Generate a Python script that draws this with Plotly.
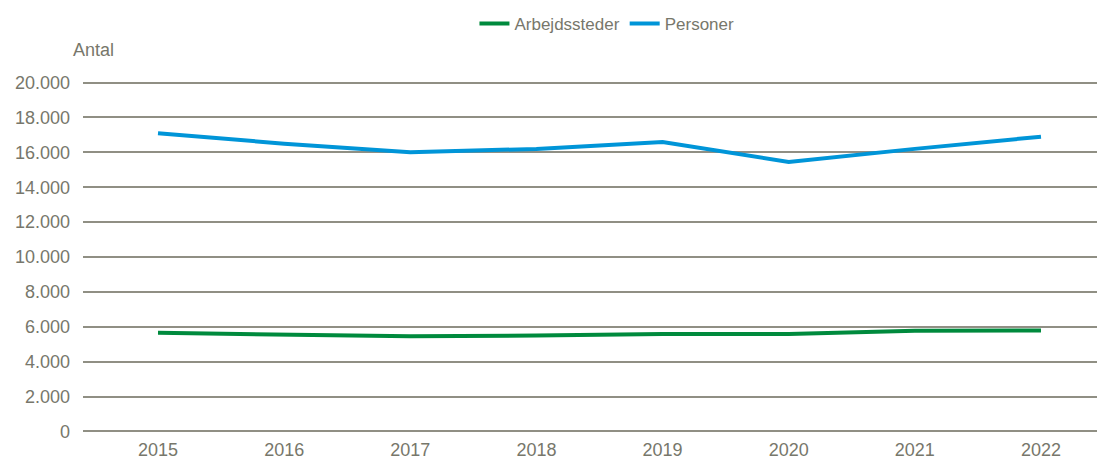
import plotly.graph_objects as go

years = ["2015", "2016", "2017", "2018", "2019", "2020", "2021", "2022"]
arbejdssteder = [5650, 5560, 5450, 5500, 5580, 5580, 5770, 5780]
personer = [17100, 16500, 16000, 16200, 16600, 15450, 16200, 16900]
y_ticks = [0, 2000, 4000, 6000, 8000, 10000, 12000, 14000, 16000, 18000, 20000]

grey = "#77776b"
grid = "#908f84"

# page body has an 8px default margin, so the figure is sized 1100x451
W, H = 1100, 451
ML, MR, MT, MB = 75, 11, 71.9, 25.4
plot_w = W - ML - MR
plot_h = H - MT - MB

fig = go.Figure()
fig.add_trace(go.Scatter(x=list(range(len(years))), y=arbejdssteder, name="Arbejdssteder",
                         mode="lines", line=dict(color="#008a3d", width=4)))
fig.add_trace(go.Scatter(x=list(range(len(years))), y=personer, name="Personer",
                         mode="lines", line=dict(color="#0095d8", width=4)))

fig.update_layout(
    width=W, height=H,
    margin=dict(l=ML, r=MR, t=MT, b=MB, pad=0, autoexpand=False),
    paper_bgcolor="white", plot_bgcolor="white",
    font=dict(family="Liberation Sans, Arial, sans-serif", size=18, color=grey),
    separators=",.",
    showlegend=True,
    legend=dict(orientation="h", x=0.5445, xanchor="center", xref="container",
                y=1 + (79.9 - 24) / plot_h, yref="paper", yanchor="middle",
                font=dict(size=17, color=grey), itemwidth=30,
                traceorder="normal"),
    xaxis=dict(tickmode="array", tickvals=list(range(len(years))), ticktext=years,
               range=[-0.5946, 7.444], showgrid=False, zeroline=False, showline=False,
               ticks="", ticklabelstandoff=3, automargin=False,
               tickfont=dict(size=18, color=grey)),
    yaxis=dict(range=[-150, 20150], tickvals=y_ticks, tickformat=",d",
               showgrid=True, gridcolor=grid, gridwidth=1.5, zeroline=False,
               showline=False, ticks="", ticklabelstandoff=12, automargin=False,
               tickfont=dict(size=18, color=grey)),
    annotations=[dict(text="Antal", x=-12 / plot_w, xanchor="left",
                      y=1 + (79.9 - 50) / plot_h, yanchor="middle", xref="paper",
                      yref="paper", showarrow=False,
                      font=dict(size=18, color=grey))],
)

fig.write_html("out.html")
